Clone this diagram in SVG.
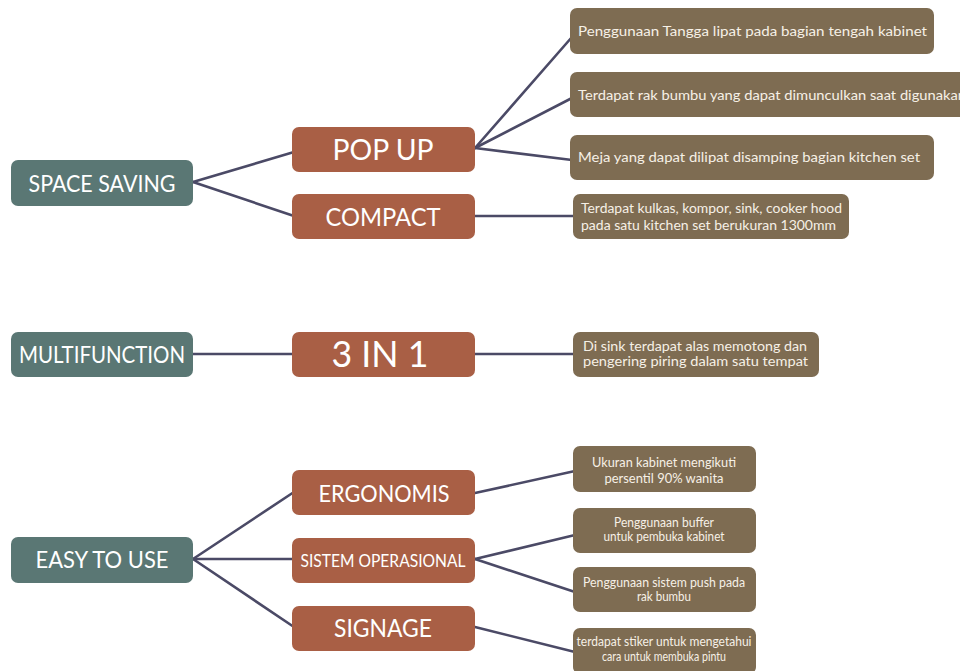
<svg xmlns="http://www.w3.org/2000/svg" width="960" height="671" viewBox="0 0 960 671">
  <style>
    .bg { fill: #ffffff; }
    .main { fill: #5a7774; }
    .sub { fill: #a95f45; }
    .leaf { fill: #7e6c52; }
    .edge { stroke: #4b4a66; stroke-width: 2.6; fill: none; stroke-linecap: round; }
    .h { font-family: Lato, "Liberation Sans", sans-serif; fill: #ffffff; text-anchor: middle; }
    .t { font-family: Lato, "Liberation Sans", sans-serif; fill: #f6f0e6; font-size: 13.5px; }
    .tc { font-family: Lato, "Liberation Sans", sans-serif; fill: #f6f0e6; font-size: 12.5px; text-anchor: middle; }
  </style>
  <rect class="bg" x="0" y="0" width="960" height="671"/>

  <!-- connectors -->
  <g id="connectors">
    <line class="edge" x1="193" y1="182" x2="294" y2="152"/>
    <line class="edge" x1="193" y1="182" x2="294" y2="216"/>
    <line class="edge" x1="475" y1="148" x2="572" y2="37"/>
    <line class="edge" x1="475" y1="148" x2="572" y2="98"/>
    <line class="edge" x1="475" y1="148" x2="572" y2="160"/>
    <line class="edge" x1="475" y1="216" x2="575" y2="216"/>
    <line class="edge" x1="193" y1="354" x2="294" y2="354"/>
    <line class="edge" x1="475" y1="354" x2="575" y2="354"/>
    <line class="edge" x1="193" y1="559" x2="294" y2="492"/>
    <line class="edge" x1="193" y1="559" x2="294" y2="559"/>
    <line class="edge" x1="193" y1="559" x2="294" y2="627"/>
    <line class="edge" x1="475" y1="493" x2="575" y2="471"/>
    <line class="edge" x1="475" y1="559" x2="575" y2="535"/>
    <line class="edge" x1="475" y1="559" x2="575" y2="592"/>
    <line class="edge" x1="475" y1="627" x2="575" y2="652"/>
  </g>

  <!-- space saving branch -->
  <g id="space-saving">
    <rect class="main" x="11" y="160" width="182" height="46" rx="7"/>
    <text class="h" x="102" y="192" font-size="23" textLength="147" lengthAdjust="spacingAndGlyphs">SPACE SAVING</text>
  </g>
  <g id="pop-up">
    <rect class="sub" x="292" y="127" width="183" height="45" rx="7"/>
    <text class="h" x="383" y="160" font-size="28" textLength="101" lengthAdjust="spacingAndGlyphs">POP UP</text>
  </g>
  <g id="compact">
    <rect class="sub" x="292" y="194" width="183" height="45" rx="7"/>
    <text class="h" x="383" y="226" font-size="25" textLength="115" lengthAdjust="spacingAndGlyphs">COMPACT</text>
  </g>
  <g id="tangga-lipat">
    <rect class="leaf" x="570" y="8" width="364" height="46" rx="7"/>
    <text class="t" x="578" y="36" textLength="349" lengthAdjust="spacingAndGlyphs">Penggunaan Tangga lipat pada bagian tengah kabinet</text>
  </g>
  <g id="rak-bumbu">
    <rect class="leaf" x="570" y="72" width="400" height="45" rx="7"/>
    <text class="t" x="578" y="100" textLength="388" lengthAdjust="spacingAndGlyphs">Terdapat rak bumbu yang dapat dimunculkan saat digunakan</text>
  </g>
  <g id="meja-lipat">
    <rect class="leaf" x="570" y="135" width="364" height="45" rx="7"/>
    <text class="t" x="578" y="162" textLength="342" lengthAdjust="spacingAndGlyphs">Meja yang dapat dilipat disamping bagian kitchen set</text>
  </g>
  <g id="kitchen-set">
    <rect class="leaf" x="573" y="194" width="276" height="45" rx="7"/>
    <text class="t" x="581" y="213" textLength="261" lengthAdjust="spacingAndGlyphs">Terdapat kulkas, kompor, sink, cooker hood</text>
    <text class="t" x="581" y="230" textLength="255" lengthAdjust="spacingAndGlyphs">pada satu kitchen set berukuran 1300mm</text>
  </g>

  <!-- multifunction branch -->
  <g id="multifunction">
    <rect class="main" x="11" y="332" width="182" height="45" rx="7"/>
    <text class="h" x="102" y="363" font-size="24" textLength="166" lengthAdjust="spacingAndGlyphs">MULTIFUNCTION</text>
  </g>
  <g id="three-in-one">
    <rect class="sub" x="292" y="332" width="183" height="45" rx="7"/>
    <text class="h" x="380" y="367" font-size="37" textLength="97" lengthAdjust="spacingAndGlyphs">3 IN 1</text>
  </g>
  <g id="sink">
    <rect class="leaf" x="573" y="332" width="246" height="45" rx="7"/>
    <text class="t" x="583" y="351" textLength="224" lengthAdjust="spacingAndGlyphs">Di sink terdapat alas memotong dan</text>
    <text class="t" x="583" y="366" textLength="225" lengthAdjust="spacingAndGlyphs">pengering piring dalam satu tempat</text>
  </g>

  <!-- easy to use branch -->
  <g id="easy-to-use">
    <rect class="main" x="11" y="537" width="182" height="46" rx="7"/>
    <text class="h" x="102" y="568" font-size="24" textLength="133" lengthAdjust="spacingAndGlyphs">EASY TO USE</text>
  </g>
  <g id="ergonomis">
    <rect class="sub" x="292" y="470" width="183" height="45" rx="7"/>
    <text class="h" x="384" y="502" font-size="24" textLength="131" lengthAdjust="spacingAndGlyphs">ERGONOMIS</text>
  </g>
  <g id="sistem-operasional">
    <rect class="sub" x="292" y="538" width="183" height="45" rx="7"/>
    <text class="h" x="383" y="567" font-size="18" textLength="165" lengthAdjust="spacingAndGlyphs">SISTEM OPERASIONAL</text>
  </g>
  <g id="signage">
    <rect class="sub" x="292" y="606" width="183" height="45" rx="7"/>
    <text class="h" x="383" y="637" font-size="25" textLength="98" lengthAdjust="spacingAndGlyphs">SIGNAGE</text>
  </g>
  <g id="ukuran-kabinet">
    <rect class="leaf" x="573" y="446" width="183" height="46" rx="7"/>
    <text class="tc" x="664" y="467" textLength="144" lengthAdjust="spacingAndGlyphs">Ukuran kabinet mengikuti</text>
    <text class="tc" x="664" y="483" textLength="119" lengthAdjust="spacingAndGlyphs">persentil 90% wanita</text>
  </g>
  <g id="buffer">
    <rect class="leaf" x="573" y="508" width="183" height="45" rx="7"/>
    <text class="tc" x="664" y="527" font-size="11.5" textLength="100" lengthAdjust="spacingAndGlyphs">Penggunaan buffer</text>
    <text class="tc" x="664" y="541" font-size="11.5" textLength="121" lengthAdjust="spacingAndGlyphs">untuk pembuka kabinet</text>
  </g>
  <g id="push">
    <rect class="leaf" x="573" y="567" width="183" height="45" rx="7"/>
    <text class="tc" x="664" y="587" font-size="11.5" textLength="162" lengthAdjust="spacingAndGlyphs">Penggunaan sistem push pada</text>
    <text class="tc" x="664" y="601" font-size="11.5" textLength="54" lengthAdjust="spacingAndGlyphs">rak bumbu</text>
  </g>
  <g id="stiker">
    <rect class="leaf" x="573" y="628" width="183" height="46" rx="7"/>
    <text class="tc" x="664" y="646" font-size="11.5" textLength="175" lengthAdjust="spacingAndGlyphs">terdapat stiker untuk mengetahui</text>
    <text class="tc" x="664" y="661" font-size="11.5" textLength="124" lengthAdjust="spacingAndGlyphs">cara untuk membuka pintu</text>
  </g>
</svg>
